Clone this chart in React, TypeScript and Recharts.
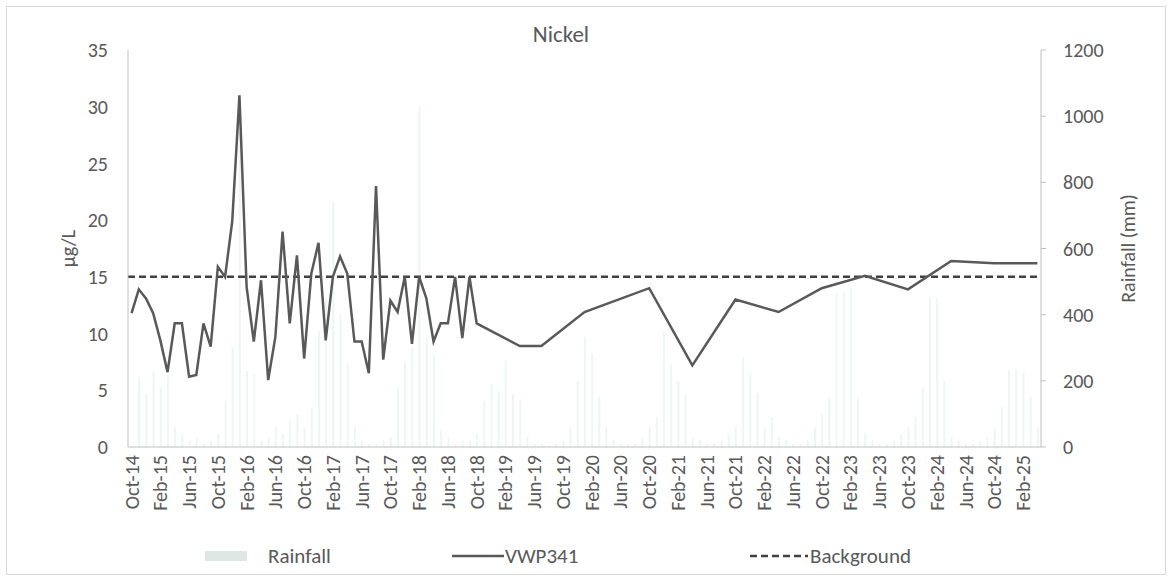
import React from 'react';
import {
  ComposedChart,
  Bar,
  Line,
  XAxis,
  YAxis,
  ReferenceLine,
  Legend,
} from 'recharts';

const FONT = 'Carlito, Lato, "Open Sans", sans-serif';
const TEXT = '#595959';
const AXIS = '#bfbfbf';

// monthly category axis, Oct-14 .. Apr-25
const MONTH_ABBR = ['Jan', 'Feb', 'Mar', 'Apr', 'May', 'Jun', 'Jul', 'Aug', 'Sep', 'Oct', 'Nov', 'Dec'];
const months = Array.from({ length: 127 }, (_, i) => {
  const m = (9 + i) % 12;
  const y = 14 + Math.floor((9 + i) / 12);
  return `${MONTH_ABBR[m]}-${y}`;
});

// monthly rainfall (mm), one value per month above
const rainfall = [
  0, 210, 160,
  230, 180, 220, 60, 40, 20, 30, 10, 20, 40, 140, 300,
  950, 230, 220, 20, 30, 60, 40, 80, 100, 60, 120, 350,
  450, 740, 400, 250, 60, 20, 10, 10, 20, 30, 180, 260,
  300, 1030, 330, 280, 50, 30, 10, 20, 20, 40, 140, 190,
  170, 260, 160, 140, 30, 10, 10, 5, 10, 20, 60, 200,
  330, 280, 150, 60, 20, 10, 10, 10, 30, 60, 90, 350,
  250, 200, 160, 30, 20, 10, 10, 20, 40, 60, 270, 223,
  163, 60, 90, 30, 20, 10, 10, 20, 60, 100, 150, 465,
  470, 484, 150, 40, 20, 10, 10, 20, 40, 60, 90, 180,
  453, 450, 200, 30, 20, 10, 10, 20, 30, 60, 120, 233,
  233, 224, 150, 60,
];

// VWP341 nickel samples (µg/L)
const vwpMonths = [
  'Oct-14', 'Nov-14', 'Dec-14', 'Jan-15', 'Feb-15', 'Mar-15', 'Apr-15', 'May-15', 'Jun-15', 'Jul-15',
  'Aug-15', 'Sep-15', 'Oct-15', 'Nov-15', 'Dec-15', 'Jan-16', 'Feb-16', 'Mar-16', 'Apr-16', 'May-16',
  'Jun-16', 'Jul-16', 'Aug-16', 'Sep-16', 'Oct-16', 'Nov-16', 'Dec-16', 'Jan-17', 'Feb-17', 'Mar-17',
  'Apr-17', 'May-17', 'Jun-17', 'Jul-17', 'Aug-17', 'Sep-17', 'Oct-17', 'Nov-17', 'Dec-17', 'Jan-18',
  'Feb-18', 'Mar-18', 'Apr-18', 'May-18', 'Jun-18', 'Jul-18', 'Aug-18', 'Sep-18', 'Oct-18', 'Apr-19',
  'Jul-19', 'Jan-20', 'Oct-20', 'Apr-21', 'Oct-21', 'Apr-22', 'Oct-22', 'Apr-23', 'Oct-23', 'Apr-24',
  'Oct-24', 'Apr-25',
];
const vwpValues = [
  11.8, 13.9, 13.1, 11.8, 9.4, 6.6, 10.9, 10.9, 6.2, 6.35,
  10.9, 8.85, 15.9, 15.0, 19.9, 31.0, 14.1, 9.3, 14.7, 5.9,
  9.7, 19.0, 10.9, 16.9, 7.8, 15.3, 18.0, 9.4, 15.0, 16.8,
  15.3, 9.3, 9.3, 6.5, 23.0, 7.7, 12.9, 11.9, 15.0, 9.1,
  15.0, 13.1, 9.3, 10.9, 10.9, 15.0, 9.6, 15.0, 10.9, 8.9,
  8.9, 11.9, 14.0, 7.2, 13.0, 11.9, 14.0, 15.1, 13.9, 16.4,
  16.2, 16.2,
];

const BACKGROUND = 15;
const leftTicks = [0, 5, 10, 15, 20, 25, 30, 35];
const rightTicks = [0, 200, 400, 600, 800, 1000, 1200];

const data = months.map((month, i) => {
  const k = vwpMonths.indexOf(month);
  return { month, rainfall: rainfall[i], vwp341: k >= 0 ? vwpValues[k] : null };
});

const MonthTick = ({ x, y, payload }: any) => (
  <text
    x={x}
    y={y}
    dy="0.35em"
    transform={`rotate(-90, ${x}, ${y})`}
    textAnchor="end"
    fill={TEXT}
    fontSize={20}
    fontFamily={FONT}
  >
    {payload.value}
  </text>
);

const axisTitle = (text: string, dx: number) => (props: any) => {
  const vb = props.viewBox || {};
  const cx = (vb.x ?? 0) + dx;
  const cy = (vb.y ?? 50) + (vb.height ?? 397) / 2;
  return (
    <text
      x={cx}
      y={cy}
      transform={`rotate(-90, ${cx}, ${cy})`}
      textAnchor="middle"
      dominantBaseline="central"
      fill={TEXT}
      fontSize={20}
      fontFamily={FONT}
    >
      {text}
    </text>
  );
};

const renderLegend = () => (
  <div style={{ position: 'relative', width: 1174, height: 26, fontFamily: FONT, fontSize: 21, color: TEXT }}>
    <div style={{ position: 'absolute', left: 205, top: 8, width: 42, height: 10, background: '#dfe7e5' }} />
    <span style={{ position: 'absolute', left: 268, top: 0 }}>Rainfall</span>
    <svg style={{ position: 'absolute', left: 452, top: 0 }} width={52} height={26}>
      <line x1={0} y1={13} x2={52} y2={13} stroke="#595959" strokeWidth={2.5} />
    </svg>
    <span style={{ position: 'absolute', left: 505, top: 0 }}>VWP341</span>
    <svg style={{ position: 'absolute', left: 750, top: 0 }} width={58} height={26}>
      <line x1={0} y1={13} x2={58} y2={13} stroke="#404040" strokeWidth={2.5} strokeDasharray="7 4" />
    </svg>
    <span style={{ position: 'absolute', left: 810, top: 0 }}>Background</span>
  </div>
);

export default function App() {
  return (
    <div style={{ position: 'absolute', left: 0, top: 0, width: 1174, height: 581, background: '#fff' }}>
      <div
        style={{
          position: 'absolute',
          left: 6,
          top: 6,
          width: 1160,
          height: 569,
          border: '1px solid #d9d9d9',
          boxSizing: 'border-box',
        }}
      />
      <div
        style={{
          position: 'absolute',
          left: 461,
          width: 200,
          top: 20,
          textAlign: 'center',
          fontFamily: FONT,
          fontSize: 23,
          color: TEXT,
        }}
      >
        Nickel
      </div>
      <ComposedChart
        width={1174}
        height={581}
        data={data}
        margin={{ top: 50, right: 53, bottom: 64, left: 8 }}
        barGap={0}
      >
        <XAxis
          dataKey="month"
          interval={3}
          tickLine={false}
          axisLine={{ stroke: AXIS }}
          tick={<MonthTick />}
          height={70}
        />
        <YAxis
          yAxisId="left"
          domain={[0, 35]}
          ticks={leftTicks}
          width={120}
          tickLine={false}
          axisLine={{ stroke: AXIS }}
          tickMargin={14}
          tick={{ fill: TEXT, fontSize: 20, fontFamily: FONT }}
          label={axisTitle('µg/L', 60)}
        />
        <YAxis
          yAxisId="right"
          orientation="right"
          domain={[0, 1200]}
          ticks={rightTicks}
          width={80}
          tickSize={5}
          tickLine={{ stroke: AXIS }}
          axisLine={{ stroke: AXIS }}
          tickMargin={17}
          tick={{ fill: TEXT, fontSize: 20, fontFamily: FONT }}
          label={axisTitle('Rainfall (mm)', 87)}
        />
        <Bar
          yAxisId="right"
          dataKey="rainfall"
          name="Rainfall"
          fill="#eef6f4"
          barSize={2}
          isAnimationActive={false}
        />
        <ReferenceLine
          yAxisId="left"
          y={BACKGROUND}
          stroke="#404040"
          strokeWidth={2.5}
          strokeDasharray="7 4"
        />
        <Line
          yAxisId="left"
          dataKey="vwp341"
          name="VWP341"
          type="linear"
          stroke="#595959"
          strokeWidth={2.5}
          dot={false}
          connectNulls
          isAnimationActive={false}
        />
        <Legend
          content={renderLegend}
          layout="horizontal"
          verticalAlign="middle"
          align="center"
          wrapperStyle={{ position: 'absolute', left: 0, top: 543, width: 1174 }}
        />
      </ComposedChart>
    </div>
  );
}
